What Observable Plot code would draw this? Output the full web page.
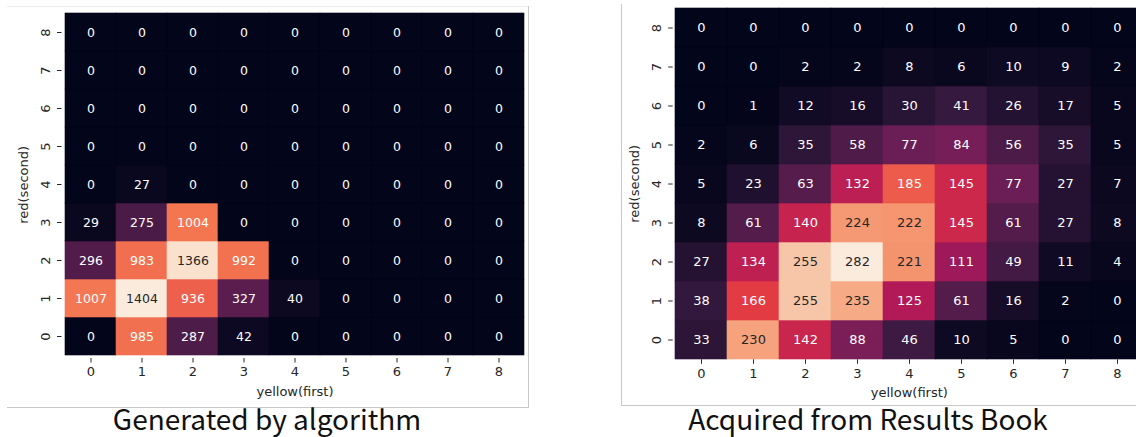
<!DOCTYPE html>
<html>
<head>
<meta charset="utf-8">
<script src="https://cdn.jsdelivr.net/npm/d3@7"></script>
<script src="https://cdn.jsdelivr.net/npm/@observablehq/plot@0.6"></script>
<style>
  html, body { margin: 0; padding: 0; background: #fff; }
  body { width: 1136px; height: 437px; overflow: hidden; position: relative; }
  .panel { position: absolute; top: 0; height: 400px; }
  .panel svg { max-width: none !important; display: block; }
  .line { position: absolute; background: #c8c8c8; }
  .caption { position: absolute; font-family: "Noto Sans CJK JP", "Noto Sans", sans-serif; font-size: 28px; color: #111; white-space: nowrap; transform: translateX(-50%); line-height: 1; }
</style>
</head>
<body>
<div id="left" class="panel" style="left:0px; width:568px"></div>
<div id="right" class="panel" style="left:568px; width:600px"></div>
<div class="line" style="left:7px; top:6px; width:521px; height:1px; background:#ececec"></div>
<div class="line" style="left:528px; top:6px; width:1px; height:402px"></div>
<div class="line" style="left:7px; top:407px; width:522px; height:1px"></div>
<div class="line" style="left:621px; top:4px; width:1px; height:401px"></div>
<div class="line" style="left:621px; top:405px; width:515px; height:1px"></div>
<div class="caption" style="left:267px; top:404px">Generated by algorithm</div>
<div class="caption" style="left:868px; top:404px">Acquired from Results Book</div>
<script>
// tick labels (shared by both heatmaps)
const yellowTicks = ["0","1","2","3","4","5","6","7","8"];
const redTicks = ["0","1","2","3","4","5","6","7","8"];

// counts: row index = red(second) value 0..8, column index = yellow(first) value 0..8
const generatedCounts = [
  [0, 985, 287, 42, 0, 0, 0, 0, 0],
  [1007, 1404, 936, 327, 40, 0, 0, 0, 0],
  [296, 983, 1366, 992, 0, 0, 0, 0, 0],
  [29, 275, 1004, 0, 0, 0, 0, 0, 0],
  [0, 27, 0, 0, 0, 0, 0, 0, 0],
  [0, 0, 0, 0, 0, 0, 0, 0, 0],
  [0, 0, 0, 0, 0, 0, 0, 0, 0],
  [0, 0, 0, 0, 0, 0, 0, 0, 0],
  [0, 0, 0, 0, 0, 0, 0, 0, 0]
];
const bookCounts = [
  [33, 230, 142, 88, 46, 10, 5, 0, 0],
  [38, 166, 255, 235, 125, 61, 16, 2, 0],
  [27, 134, 255, 282, 221, 111, 49, 11, 4],
  [8, 61, 140, 224, 222, 145, 61, 27, 8],
  [5, 23, 63, 132, 185, 145, 77, 27, 7],
  [2, 6, 35, 58, 77, 84, 56, 35, 5],
  [0, 1, 12, 16, 30, 41, 26, 17, 5],
  [0, 0, 2, 2, 8, 6, 10, 9, 2],
  [0, 0, 0, 0, 0, 0, 0, 0, 0]
];

// seaborn "rocket" colormap stops
const rocketStops = ["#03051a","#35193e","#701f57","#ad1759","#e13342","#f37651","#f6b48f","#faebdd"];
const rocket = d3.piecewise(d3.interpolateRgb, rocketStops);

function toTable(matrix) {
  const rows = [];
  matrix.forEach((row, r) => row.forEach((v, c) => rows.push({red: redTicks[r], yellow: yellowTicks[c], value: v})));
  return rows;
}

function lum(color) {
  const c = d3.rgb(color);
  const f = (u) => { u /= 255; return u <= 0.03928 ? u / 12.92 : Math.pow((u + 0.055) / 1.055, 2.4); };
  return 0.2126 * f(c.r) + 0.7152 * f(c.g) + 0.0722 * f(c.b);
}

function heatmap(matrix, opts) {
  const data = toTable(matrix);
  const max = d3.max(data, d => d.value);
  const scale = d3.scaleLinear().domain([0, max]).range([0, 1]);
  const textColor = d => lum(rocket(scale(d.value))) > 0.408 ? "#262626" : "#ffffff";
  return Plot.plot({
    width: opts.width,
    height: 400,
    marginLeft: opts.marginLeft,
    marginRight: opts.marginRight,
    marginTop: opts.marginTop,
    marginBottom: opts.marginBottom,
    style: {fontFamily: "DejaVu Sans", fontSize: "13px", color: "#262626", background: "transparent", overflow: "visible"},
    x: {type: "band", domain: yellowTicks, padding: 0},
    y: {type: "band", domain: redTicks.slice().reverse(), padding: 0},
    color: {type: "linear", domain: [0, max], interpolate: rocket},
    marks: [
      Plot.cell(data, {x: "yellow", y: "red", fill: "value", stroke: "value", strokeWidth: 0.6}),
      Plot.text(data, {x: "yellow", y: "red", text: d => String(d.value), fill: textColor, fontSize: opts.valueSize}),
      Plot.axisX({tickSize: 4.5, tickPadding: 4, fontSize: 13, label: "yellow(first)", labelAnchor: "center", labelArrow: "none", labelOffset: 37}),
      Plot.axisY({tickSize: 4.5, tickPadding: 8, tickRotate: -90, fontSize: 13, label: "red(second)", labelAnchor: "center", labelArrow: "none", labelOffset: 43})
    ]
  });
}

document.getElementById("left").append(heatmap(generatedCounts, {width: 568, marginLeft: 61.5, marginRight: 40.5, marginTop: 10.7, marginBottom: 42, valueSize: 12.5}));
document.getElementById("right").append(heatmap(bookCounts, {width: 600, marginLeft: 104.7, marginRight: 23, marginTop: 7.3, marginBottom: 40.7, valueSize: 13}));
</script>
</body>
</html>
